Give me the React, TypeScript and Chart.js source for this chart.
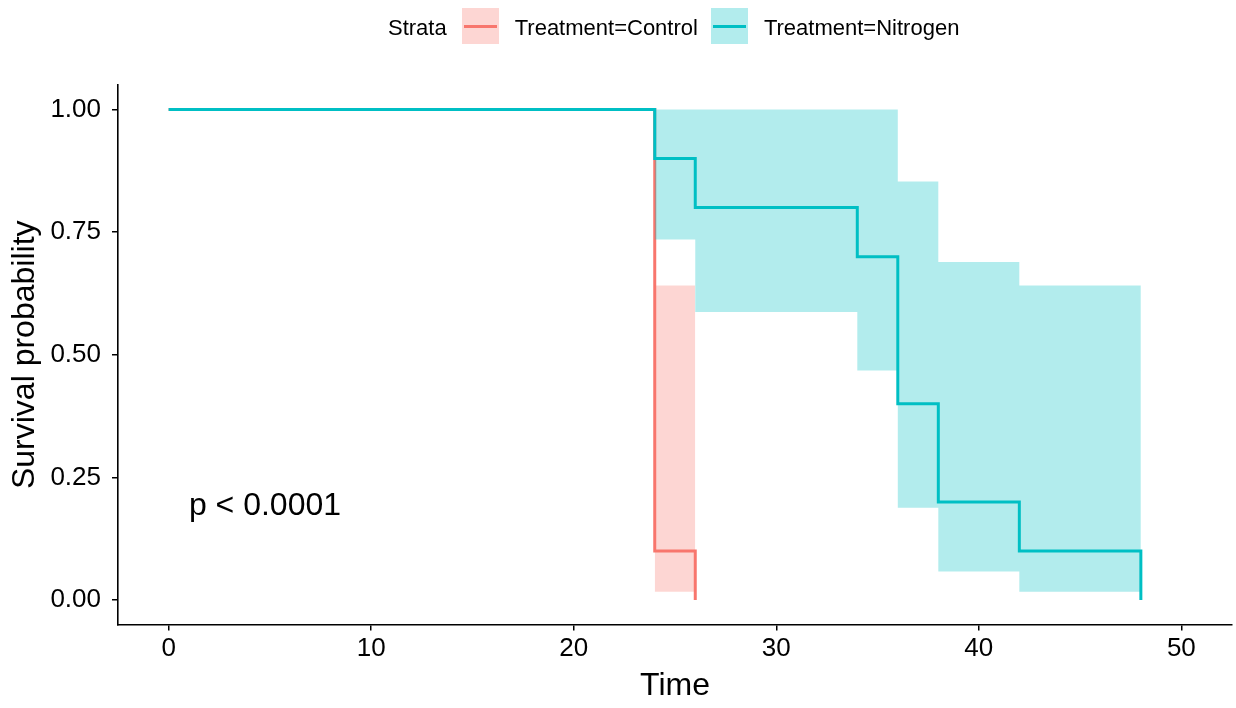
import React, { useEffect, useRef } from "react";
import { Chart, registerables } from "chart.js";

Chart.register(...registerables);

// Kaplan–Meier estimates per stratum (time, survival)
const nitrogenTimes = [0, 24, 26, 34, 36, 38, 42, 48];
const nitrogenSurv = [1, 0.9, 0.8, 0.7, 0.4, 0.2, 0.1, 0];
const controlTimes = [0, 24, 26];
const controlSurv = [1, 0.1, 0];

// 95% confidence bands (value holds from each time until the next)
const nitrogenBandTimes = [24, 26, 34, 36, 38, 42, 48];
const nitrogenUpper = [1, 1, 1, 0.853, 0.689, 0.641, 0.641];
const nitrogenLower = [0.735, 0.587, 0.468, 0.188, 0.058, 0.017, 0.017];
const controlBandTimes = [24, 26];
const controlUpper = [0.641, 0.641];
const controlLower = [0.017, 0.017];

const xTicks = [0, 10, 20, 30, 40, 50];
const yTicks = [0, 0.25, 0.5, 0.75, 1];

const pValueLabel = "p < 0.0001";
const strataLabels = ["Treatment=Control", "Treatment=Nitrogen"];

const RED = "#F8766D";
const TEAL = "#00BFC4";
const RED_FILL = "rgba(248,118,109,0.3)";
const TEAL_FILL = "rgba(0,191,196,0.3)";
const FONT = "'Liberation Sans', Arial, Helvetica, sans-serif";

const zip = (xs: number[], ys: number[]) => xs.map((x, i) => ({ x, y: ys[i] }));

const pValuePlugin = {
  id: "pValue",
  afterDraw(chart: any) {
    const { ctx, scales } = chart;
    ctx.save();
    ctx.font = `32px ${FONT}`;
    ctx.fillStyle = "#000";
    ctx.textAlign = "left";
    ctx.textBaseline = "middle";
    ctx.fillText(pValueLabel, scales.x.getPixelForValue(1), scales.y.getPixelForValue(0.2) + 4);
    ctx.restore();
  },
};

function LegendKey({ line, fill }: { line: string; fill: string }) {
  return (
    <div
      style={{
        width: 37,
        height: 36,
        background: fill,
        position: "relative",
        flex: "0 0 auto",
      }}
    >
      <div
        style={{
          position: "absolute",
          left: 2,
          right: 2,
          top: 16.5,
          height: 3,
          background: line,
        }}
      />
    </div>
  );
}

export default function App() {
  const canvasRef = useRef<HTMLCanvasElement>(null);

  useEffect(() => {
    document.body.style.margin = "0";
    const canvas = canvasRef.current;
    if (!canvas) return;

    const chart = new Chart(canvas, {
      type: "line",
      data: {
        datasets: [
          {
            label: strataLabels[1],
            data: zip(nitrogenTimes, nitrogenSurv),
            borderColor: TEAL,
            borderWidth: 3,
            stepped: true,
            pointRadius: 0,
            fill: false,
            order: 0,
          },
          {
            label: strataLabels[0],
            data: zip(controlTimes, controlSurv),
            borderColor: RED,
            borderWidth: 3,
            stepped: true,
            pointRadius: 0,
            fill: false,
            order: 5,
          },
          {
            label: "nitrogen-upper",
            data: zip(nitrogenBandTimes, nitrogenUpper),
            borderColor: "transparent",
            borderWidth: 0,
            backgroundColor: TEAL_FILL,
            stepped: true,
            pointRadius: 0,
            fill: "+1",
            order: 1,
          },
          {
            label: "nitrogen-lower",
            data: zip(nitrogenBandTimes, nitrogenLower),
            borderColor: "transparent",
            borderWidth: 0,
            stepped: true,
            pointRadius: 0,
            fill: false,
            order: 1,
          },
          {
            label: "control-upper",
            data: zip(controlBandTimes, controlUpper),
            borderColor: "transparent",
            borderWidth: 0,
            backgroundColor: RED_FILL,
            stepped: true,
            pointRadius: 0,
            fill: "+1",
            order: 3,
          },
          {
            label: "control-lower",
            data: zip(controlBandTimes, controlLower),
            borderColor: "transparent",
            borderWidth: 0,
            stepped: true,
            pointRadius: 0,
            fill: false,
            order: 3,
          },
        ],
      },
      options: {
        responsive: false,
        animation: false,
        devicePixelRatio: 1,
        layout: { padding: { top: 85, right: 4, left: 0, bottom: 0 } },
        plugins: {
          legend: { display: false },
          tooltip: { enabled: false },
        },
        scales: {
          x: {
            type: "linear",
            min: -2.5,
            max: 52.5,
            afterBuildTicks: (scale: any) => {
              scale.ticks = xTicks.map((v) => ({ value: v }));
            },
            afterFit: (scale: any) => {
              scale.height = 83.5;
            },
            ticks: {
              autoSkip: false,
              maxRotation: 0,
              padding: 3,
              color: "#000",
              font: { family: FONT, size: 26 },
              callback: (v: any) => String(v),
            },
            grid: {
              drawOnChartArea: false,
              drawTicks: true,
              tickLength: 6,
              color: "#000",
              lineWidth: 1.5,
            },
            border: { display: true, color: "#000", width: 1.6 },
            title: {
              display: true,
              text: "Time",
              color: "#000",
              font: { family: FONT, size: 32 },
              padding: { top: 0, bottom: 3 },
            },
          },
          y: {
            type: "linear",
            min: -0.05,
            max: 1.05,
            afterBuildTicks: (scale: any) => {
              scale.ticks = yTicks.map((v) => ({ value: v }));
            },
            afterFit: (scale: any) => {
              scale.width = 118;
            },
            ticks: {
              autoSkip: false,
              padding: 11,
              color: "#000",
              font: { family: FONT, size: 26 },
              callback: (v: any) => Number(v).toFixed(2),
            },
            grid: {
              drawOnChartArea: false,
              drawTicks: true,
              tickLength: 6,
              color: "#000",
              lineWidth: 1.5,
            },
            border: { display: true, color: "#000", width: 1.6 },
            title: {
              display: true,
              text: "Survival probability",
              color: "#000",
              font: { family: FONT, size: 32 },
              padding: { top: 6, bottom: 0 },
            },
          },
        },
      },
      plugins: [pValuePlugin],
    });

    return () => chart.destroy();
  }, []);

  const textStyle: React.CSSProperties = {
    fontFamily: FONT,
    fontSize: 22,
    color: "#000",
    whiteSpace: "nowrap",
    lineHeight: "36px",
    position: "relative",
    top: 2,
  };

  return (
    <div
      style={{
        position: "fixed",
        left: 0,
        top: 0,
        width: 1236,
        height: 708,
        background: "#fff",
      }}
    >
      <canvas ref={canvasRef} width={1236} height={708} style={{ display: "block" }} />
      <div
        style={{
          position: "absolute",
          left: 388,
          top: 8,
          display: "flex",
          alignItems: "center",
        }}
      >
        <span style={textStyle}>Strata</span>
        <div style={{ width: 15 }} />
        <LegendKey line={RED} fill={RED_FILL} />
        <div style={{ width: 16 }} />
        <span style={textStyle}>{strataLabels[0]}</span>
        <div style={{ width: 13 }} />
        <LegendKey line={TEAL} fill={TEAL_FILL} />
        <div style={{ width: 16 }} />
        <span style={textStyle}>{strataLabels[1]}</span>
      </div>
    </div>
  );
}
